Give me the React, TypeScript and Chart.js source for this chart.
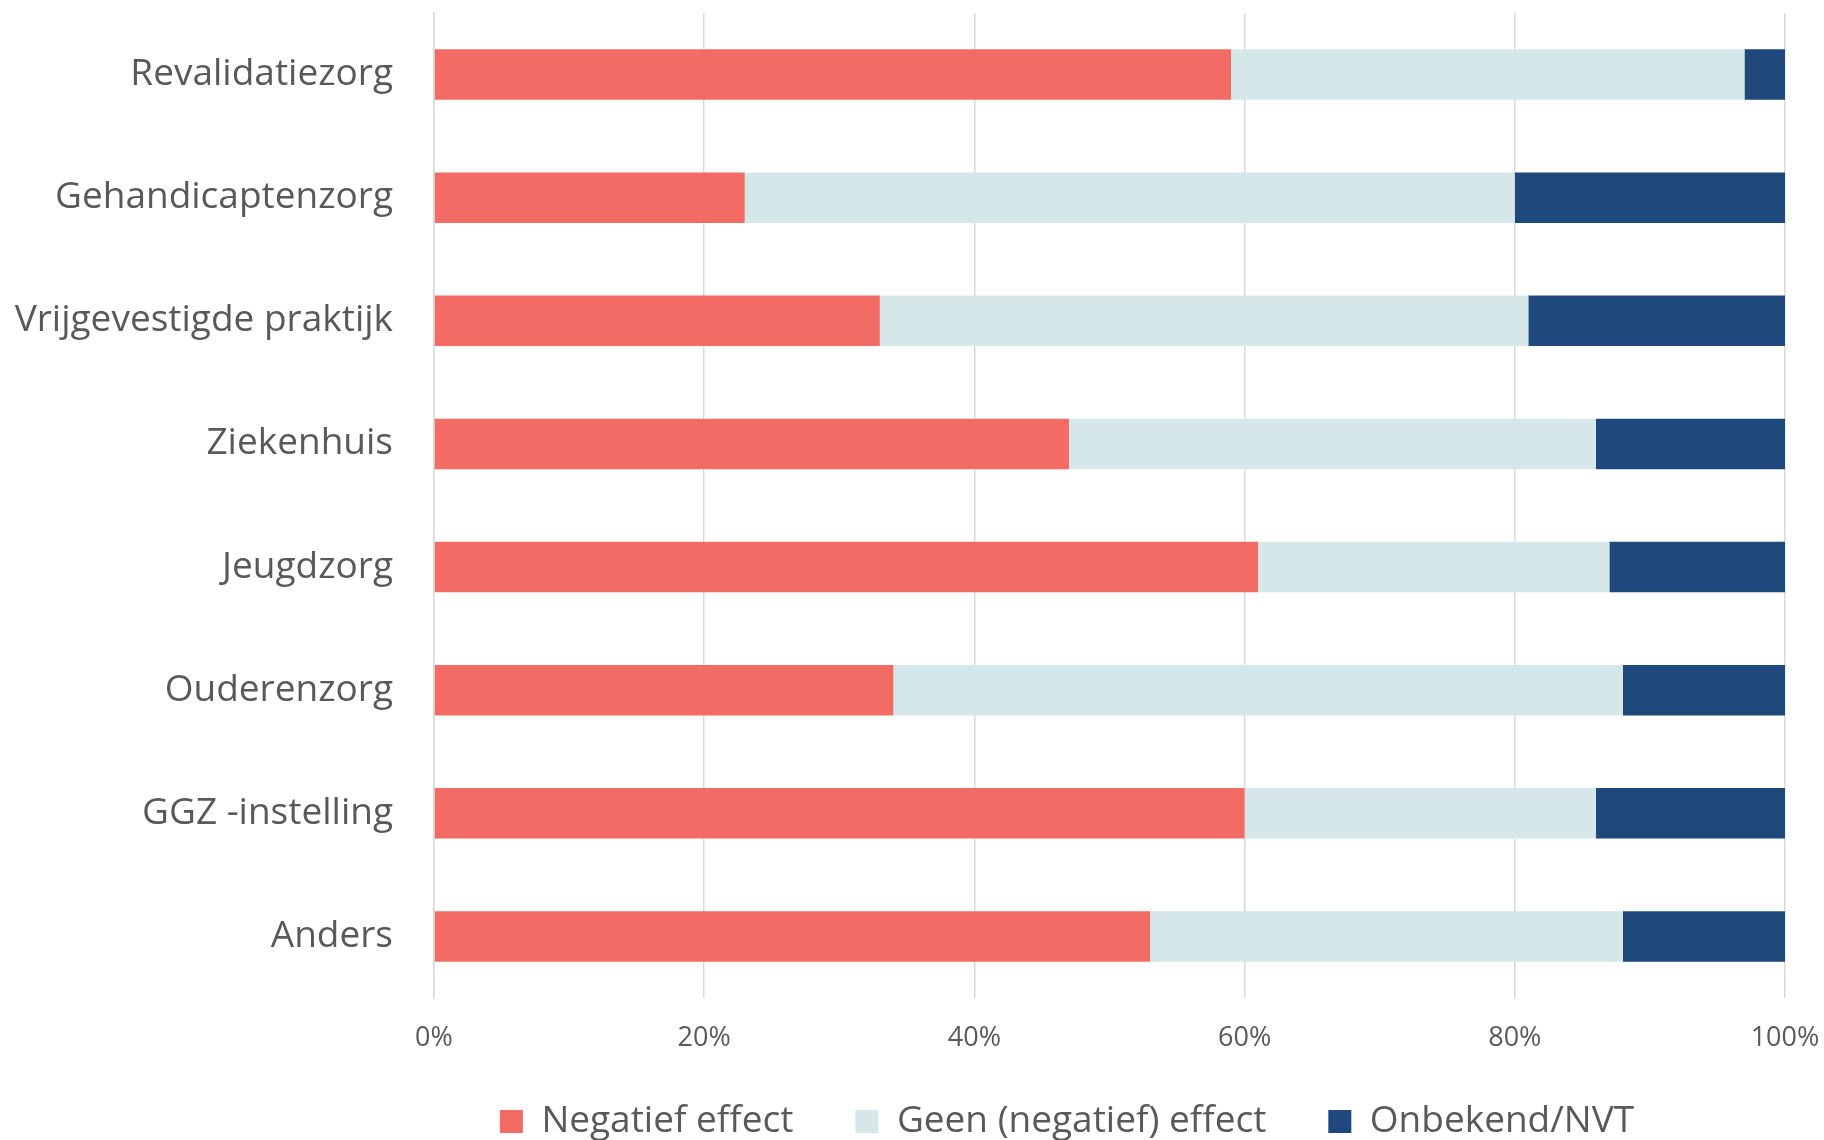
import React, { useEffect, useRef } from "react";
import { Chart, registerables } from "chart.js";

Chart.register(...registerables);

const categories = [
  "Revalidatiezorg",
  "Gehandicaptenzorg",
  "Vrijgevestigde praktijk",
  "Ziekenhuis",
  "Jeugdzorg",
  "Ouderenzorg",
  "GGZ -instelling",
  "Anders",
];
const negatiefEffect = [59, 23, 33, 47, 61, 34, 60, 53];
const geenEffect = [38, 57, 48, 39, 26, 54, 26, 35];
const onbekendNvt = [3, 20, 19, 14, 13, 12, 14, 12];
const seriesNames = ["Negatief effect", "Geen (negatief) effect", "Onbekend/NVT"];
const xTicks = [0, 20, 40, 60, 80, 100];

const COLORS = ["#F26B64", "#D5E7E8", "#1F497D"];
const TEXT = "#595959";
const GRID = "#D9D9D9";
const FONT = "'Open Sans'";

const legendShift = {
  id: "legendShift",
  afterLayout(chart: any) {
    const lg = chart.legend;
    if (!lg) return;
    const dx = 1067 - (lg.left + lg.right) / 2;
    const dy = -13;
    lg.left += dx;
    lg.right += dx;
    lg.top += dy;
    lg.bottom += dy;
  },
};

export default function App() {
  const ref = useRef<HTMLCanvasElement | null>(null);

  useEffect(() => {
    if (!ref.current) return;
    const chart = new Chart(ref.current, {
      type: "bar",
      data: {
        labels: categories,
        datasets: [
          { label: seriesNames[0], data: negatiefEffect, backgroundColor: COLORS[0] },
          { label: seriesNames[1], data: geenEffect, backgroundColor: COLORS[1] },
          { label: seriesNames[2], data: onbekendNvt, backgroundColor: COLORS[2] },
        ],
      },
      options: {
        indexAxis: "y",
        responsive: false,
        animation: false,
        datasets: {
          bar: { barPercentage: 0.41, categoryPercentage: 1, borderWidth: 0 },
        },
        layout: { padding: { top: 13, right: 39, bottom: 0, left: 0 } },
        scales: {
          x: {
            stacked: true,
            min: 0,
            max: 100,
            afterBuildTicks(scale: any) {
              scale.ticks = xTicks.map((v) => ({ value: v }));
            },
            afterFit(scale: any) {
              scale.height = 56;
              scale.paddingLeft = 0;
              scale.paddingRight = 0;
            },
            grid: { color: GRID, lineWidth: 1.5, drawTicks: false },
            border: { display: false },
            ticks: {
              padding: 24,
              color: TEXT,
              font: { family: FONT, size: 27 },
              maxRotation: 0,
              callback: (v: any) => v + "%",
            },
          },
          y: {
            stacked: true,
            afterFit(scale: any) {
              scale.width = 434;
              scale.paddingTop = 0;
              scale.paddingBottom = 0;
            },
            grid: { display: false, drawTicks: false },
            border: { display: true, color: GRID, width: 1.5 },
            ticks: {
              padding: 41,
              color: TEXT,
              font: { family: FONT, size: 37 },
            },
          },
        },
        plugins: {
          tooltip: { enabled: false },
          legend: {
            position: "bottom",
            labels: {
              color: TEXT,
              font: { family: FONT, size: 37 },
              boxWidth: 23,
              boxHeight: 23,
              padding: 62,
            },
          },
        },
      },
      plugins: [legendShift],
    });
    return () => chart.destroy();
  }, []);

  return (
    <div
      style={{
        position: "fixed",
        left: 0,
        top: 0,
        width: 1824,
        height: 1140,
        overflow: "hidden",
        background: "#fff",
      }}
    >
      <canvas ref={ref} width={1824} height={1163} style={{ width: 1824, height: 1163, display: "block" }} />
    </div>
  );
}
